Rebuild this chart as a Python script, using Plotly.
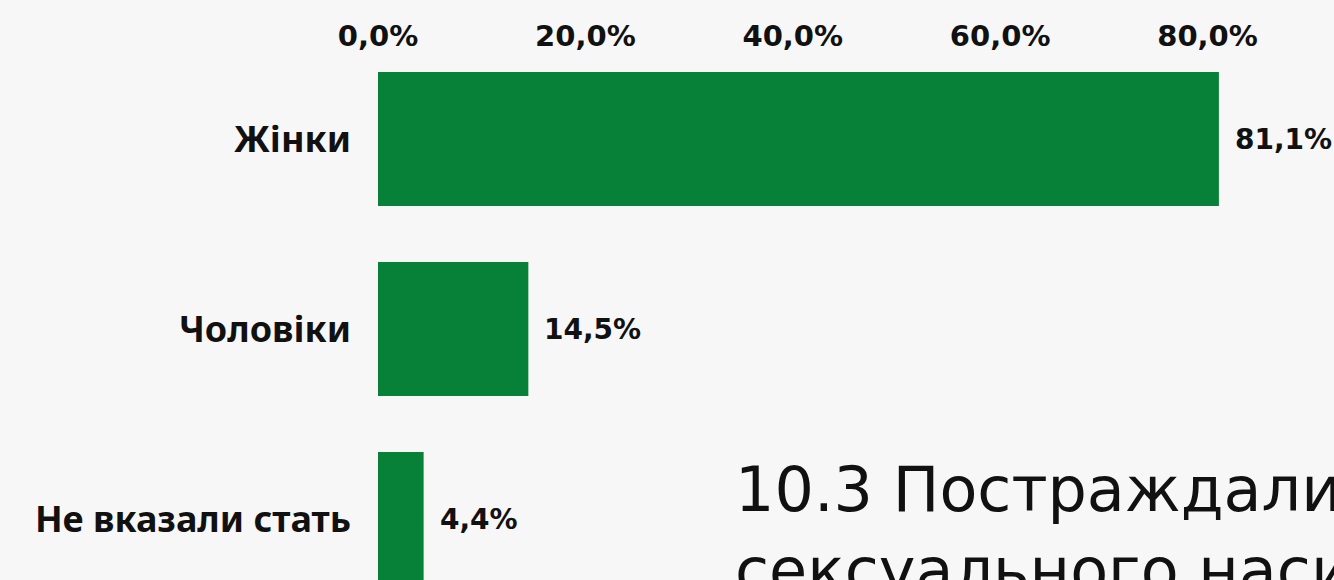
import plotly.graph_objects as go

categories = ["Жінки", "Чоловіки", "Не вказали стать"]
shares = [0.811, 0.145, 0.044]
tick_values = [0.0, 0.2, 0.4, 0.6, 0.8]
title_text = "10.3 Постраждали від<br>сексуального насильства за статтю"

GREEN = "#088138"
BG = "#f7f7f7"
NUM_FONT = {"family": "DejaVu Sans", "size": 29, "color": "#111111", "weight": "bold"}

fig = go.Figure(
    go.Bar(
        x=shares,
        y=categories,
        orientation="h",
        marker={"color": GREEN, "line": {"width": 0}},
        width=0.705,
        hoverinfo="skip",
    )
)

# value labels to the right of each bar
for cat, val in zip(categories, shares):
    fig.add_annotation(
        x=val, y=cat, xref="x", yref="y",
        text=f"{val * 100:.1f}%".replace(".", ","),
        showarrow=False, xanchor="left", xshift=14,
        font={**NUM_FONT, "size": 28},
    )

fig.add_annotation(
    x=0.371, y=0.229, xref="paper", yref="paper",
    text=title_text, showarrow=False, xanchor="left", yanchor="top", align="left",
    font={"family": "DejaVu Sans", "size": 62, "color": "#111111"},
)

fig.update_xaxes(
    side="top",
    range=[0, 0.922],
    tickvals=tick_values,
    tickformat=".1%",
    ticklabelposition="inside",
    ticklabeloverflow="allow",
    ticklabelstandoff=8,
    showgrid=False,
    zeroline=False,
    showline=False,
    ticks="",
    tickfont=NUM_FONT,
)
fig.update_yaxes(
    range=[2.321, -0.653],
    showgrid=False,
    zeroline=False,
    showline=False,
    ticks="",
    ticklabelstandoff=26,
    tickfont={"family": "Noto Sans, Open Sans", "size": 36, "color": "#111111", "weight": "bold"},
)
fig.update_layout(
    width=1334,
    height=580,
    margin={"l": 378, "r": 0, "t": 15, "b": 0},
    paper_bgcolor=BG,
    plot_bgcolor=BG,
    separators=", ",
    showlegend=False,
)

fig.write_html(
    "out.html",
    config={"displayModeBar": False},
    post_script="document.body.style.margin = '0';",
)
